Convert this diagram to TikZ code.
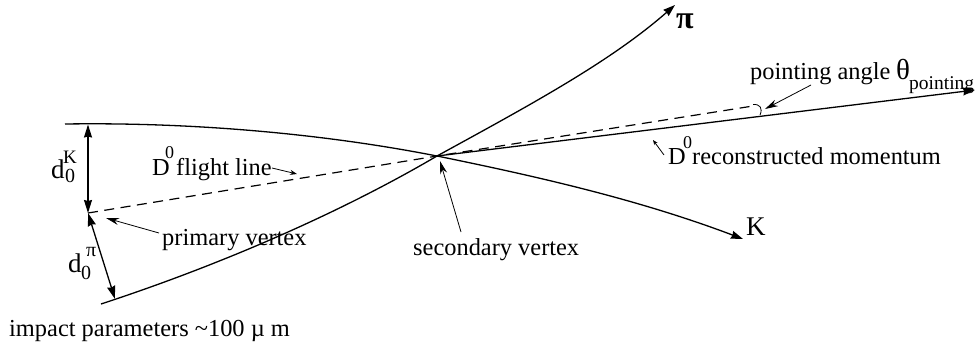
\documentclass[tikz,border=0pt]{standalone}
\usepackage{fontspec}
\setmainfont{Liberation Serif}
\usetikzlibrary{arrows.meta}
\newcommand{\fs}[1]{\fontsize{#1}{#1}\selectfont}
\tikzset{
 track/.style={line width=1.3pt},
 bigtip/.style={-{Stealth[length=12pt,width=8pt,inset=1pt]}},
 dbltip/.style={{Stealth[length=13pt,width=8pt,inset=1pt]}-{Stealth[length=13pt,width=8pt,inset=1pt]}},
 thin arrow/.style={line width=0.8pt},
 dash line/.style={line width=1.2pt,dash pattern=on 10pt off 6.5pt},
 txt/.style={inner sep=0pt,anchor=base west},
 lab/.style={txt,font=\fs{24.4}},
 sup/.style={txt,font=\fs{18}},
}
\begin{document}
\begin{tikzpicture}[x=1pt,y=-1pt]
\useasboundingbox (0,0) rectangle (980,349);
% vertices
\coordinate (sv) at (437,156);
\coordinate (pv) at (88,213);
\coordinate (kstart) at (65,124);
\coordinate (kend) at (743,239);
\coordinate (pistart) at (101,304);
\coordinate (piend) at (675,5);
\coordinate (momend) at (975,90);
\coordinate (dashend) at (753,106);
\coordinate (kfoot) at (88,124.5);
\coordinate (pifoot) at (115,299);
% tracks
\draw[track] (kstart) .. controls (200,122) and (330,135) .. (sv);
\draw[track,bigtip] (sv) .. controls (540,177) and (640,200) .. (kend);
\draw[track] (pistart) .. controls (220,265) and (340,213) .. (sv);
\draw[track,bigtip] (sv) .. controls (530,105) and (610,62) .. (piend);
\draw[track,bigtip] (sv) -- (momend);
\draw[dash line] (pv) -- (sv) -- (dashend);
% impact parameters
\draw[track,dbltip] (kfoot) -- (pv);
\draw[track,dbltip] (pv) -- (pifoot);
% angle mark
\coordinate (ang1) at (753,104.5);
\coordinate (ang2) at (760,115);
\draw[thin arrow] (ang1) .. controls (760,104) and (763,108) .. (ang2);
% labels
\node[lab,font=\fs{27}] (dk) at (51,178) {d};
\node[sup,font=\fs{19}] (dks) at (63,163) {K};
\node[sup,font=\fs{20}] (dk0) at (65,182) {0};
\node[lab,font=\fs{27}] (dp) at (68,272) {d};
\node[sup,font=\fs{20}] (dps) at (86,256) {π};
\node[sup,font=\fs{20}] (dp0) at (81,279) {0};
\node[lab] (fl) at (152,175) {D};
\node[sup] (fl0) at (165,158) {0};
\node[lab] (flt) at (176,175) {flight line};
\coordinate (fltail) at (272,168);
\coordinate (flhead) at (297,174);
\draw[thin arrow,-{Stealth[length=7pt,width=5pt]}] (fltail) -- (flhead);
\node[lab] (pvl) at (162,245) {primary vertex};
\coordinate (pvtail) at (159,233);
\coordinate (pvhead) at (106,218);
\draw[thin arrow,-{Stealth[length=13pt,width=7pt]}] (pvtail) -- (pvhead);
\node[lab] (imp) at (9,336) {impact parameters \textasciitilde{}100 µ m};
\node[lab] (svl) at (413,255) {secondary vertex};
\coordinate (svtail) at (461,232);
\coordinate (svhead) at (440,161);
\draw[thin arrow,-{Stealth[length=13pt,width=7pt]}] (svtail) -- (svhead);
\node[lab] (rl) at (668,164) {D};
\node[sup] (rl0) at (683,148) {0};
\node[lab] (rlt) at (692,164) {reconstructed momentum};
\coordinate (rtail) at (664,155);
\coordinate (rhead) at (653,140);
\draw[thin arrow,-{Stealth[length=5pt,width=4pt]}] (rtail) -- (rhead);
\node[lab] (pal) at (750,79) {pointing angle};
\node[txt,font=\fs{29}] (th) at (896,79) {θ};
\node[txt,font=\fs{19.5}] (pts) at (909,89) {pointing};
\coordinate (patail) at (811,85);
\coordinate (pahead) at (765,109);
\draw[thin arrow,-{Stealth[length=13pt,width=7pt]}] (patail) -- (pahead);
\node[txt,font=\bfseries\fs{32}] (pil) at (676,28) {π};
\node[txt,font=\fs{27}] (kl) at (746,235) {K};
\end{tikzpicture}
\end{document}
